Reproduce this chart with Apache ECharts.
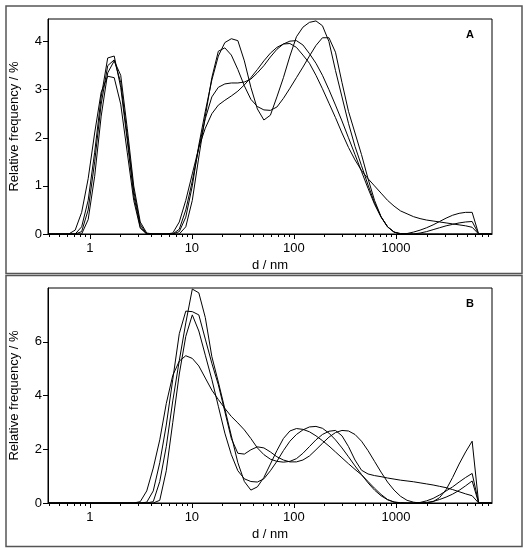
<!DOCTYPE html>
<html>
<head>
<meta charset="utf-8">
<title>Size distribution</title>
<script src="https://cdn.jsdelivr.net/npm/echarts@6.0.0/dist/echarts.min.js"></script>
<style>
  html, body { margin: 0; padding: 0; background: #fff; }
  #chart { width: 526px; height: 550px; }
</style>
</head>
<body>
<div id="chart"></div>
<script>
// size classes (nm), shared by all runs
const diam = [0.4, 0.4632, 0.5365, 0.6213, 0.7195, 0.8332, 0.9649, 1.117, 1.294, 1.499,
  1.736, 2.010, 2.328, 2.696, 3.122, 3.615, 4.187, 4.849, 5.615, 6.503,
  7.531, 8.721, 10.10, 11.70, 13.54, 15.69, 18.17, 21.04, 24.36, 28.21,
  32.67, 37.84, 43.82, 50.75, 58.77, 68.06, 78.82, 91.28, 105.7, 122.4,
  141.8, 164.2, 190.1, 220.2, 255.0, 295.3, 342.0, 396.1, 458.7, 531.2,
  615.1, 712.4, 825.0, 955.4, 1106, 1281, 1484, 1718, 1990, 2305,
  2669, 3091, 3580, 4145, 4801, 5560, 6439, 7456, 8635];

// panel A, relative frequency (%)
const a1 = [0, 0, 0, 0, 0, 0.15, 0.7, 1.7, 2.85, 3.66,
  3.7, 3.05, 1.95, 0.8, 0.15, 0, 0, 0, 0, 0,
  0.05, 0.35, 1.0, 1.85, 2.55, 3.2, 3.7, 3.98, 4.06, 4.02,
  3.6, 3.05, 2.6, 2.37, 2.47, 2.85, 3.25, 3.7, 4.1, 4.3,
  4.4, 4.43, 4.33, 4.0, 3.4, 2.85, 2.3, 1.82, 1.42, 1.02,
  0.65, 0.36, 0.15, 0.04, 0, 0.01, 0.04, 0.08, 0.13, 0.19,
  0.26, 0.33, 0.39, 0.43, 0.45, 0.45, 0, 0, 0];
const a2 = [0, 0, 0, 0, 0, 0.05, 0.5, 1.5, 2.7, 3.5,
  3.62, 3.15, 2.05, 0.9, 0.2, 0, 0, 0, 0, 0,
  0, 0.15, 0.7, 1.6, 2.45, 3.25, 3.8, 3.87, 3.72, 3.42,
  3.08, 2.8, 2.65, 2.58, 2.57, 2.64, 2.82, 3.03, 3.25, 3.47,
  3.7, 3.92, 4.08, 4.08, 3.78, 3.15, 2.55, 2.1, 1.65, 1.15,
  0.7, 0.36, 0.15, 0.04, 0.01, 0, 0, 0.02, 0.05, 0.09,
  0.13, 0.17, 0.2, 0.23, 0.25, 0.26, 0, 0, 0];
const a3 = [0, 0, 0, 0, 0, 0, 0.3, 1.2, 2.45, 3.35,
  3.6, 3.3, 2.2, 1.0, 0.25, 0.02, 0, 0, 0, 0,
  0.1, 0.5, 1.1, 1.8, 2.4, 2.85, 3.05, 3.12, 3.14, 3.14,
  3.16, 3.22, 3.35, 3.5, 3.68, 3.84, 3.95, 4.01, 4.02, 3.93,
  3.75, 3.55, 3.3, 3.0, 2.68, 2.35, 2.0, 1.65, 1.3, 0.95,
  0.62, 0.35, 0.15, 0.04, 0, 0, 0, 0, 0, 0,
  0, 0, 0, 0, 0, 0, 0, 0, 0];
const a4 = [0, 0, 0, 0, 0.08, 0.45, 1.15, 2.1, 2.95, 3.28,
  3.25, 2.7, 1.7, 0.7, 0.12, 0, 0, 0, 0, 0.02,
  0.25, 0.7, 1.25, 1.8, 2.2, 2.5, 2.68, 2.78, 2.87, 2.97,
  3.1, 3.25, 3.42, 3.6, 3.76, 3.88, 3.95, 3.96, 3.88, 3.72,
  3.55, 3.3, 3.02, 2.72, 2.42, 2.1, 1.8, 1.54, 1.32, 1.15,
  1.0, 0.85, 0.7, 0.58, 0.48, 0.42, 0.36, 0.32, 0.29, 0.27,
  0.25, 0.23, 0.21, 0.19, 0.17, 0.14, 0, 0, 0];

// panel B, relative frequency (%)
const b1 = [0, 0, 0, 0, 0, 0, 0, 0, 0, 0,
  0, 0, 0, 0, 0, 0, 0.05, 0.8, 2.1, 3.8,
  5.3, 6.7, 7.96, 7.82, 6.9, 5.45, 4.5, 3.5, 2.5, 1.5,
  0.8, 0.48, 0.6, 0.95, 1.45, 1.95, 2.4, 2.68, 2.77, 2.74,
  2.65, 2.5, 2.32, 2.12, 1.9, 1.68, 1.46, 1.25, 1.05, 0.8,
  0.55, 0.32, 0.13, 0.03, 0, 0, 0, 0, 0, 0.05,
  0.2, 0.5, 0.95, 1.45, 1.9, 2.3, 0, 0, 0];
const b2 = [0, 0, 0, 0, 0, 0, 0, 0, 0, 0,
  0, 0, 0, 0, 0, 0.03, 0.45, 1.5, 2.9, 4.6,
  6.3, 7.14, 7.12, 7.0, 6.1, 5.2, 4.4, 3.4, 2.4, 1.85,
  1.82, 1.98, 2.09, 2.05, 1.9, 1.72, 1.6, 1.53, 1.53, 1.6,
  1.75, 1.98, 2.22, 2.45, 2.62, 2.7, 2.68, 2.55, 2.3, 1.95,
  1.55, 1.15, 0.78, 0.48, 0.25, 0.1, 0.03, 0, 0.02, 0.06,
  0.13, 0.22, 0.33, 0.47, 0.64, 0.82, 0, 0, 0];
const b3 = [0, 0, 0, 0, 0, 0, 0, 0, 0, 0,
  0, 0, 0, 0, 0, 0, 0, 0.1, 1.2, 3.0,
  4.8, 6.2, 7.0, 6.4, 5.5, 4.6, 3.6, 2.6, 1.8, 1.2,
  0.9, 0.8, 0.78, 0.9, 1.2, 1.55, 1.95, 2.3, 2.55, 2.72,
  2.83, 2.85, 2.78, 2.6, 2.35, 2.05, 1.72, 1.38, 1.06, 0.75,
  0.48, 0.27, 0.12, 0.04, 0.01, 0, 0, 0.02, 0.08, 0.17,
  0.3, 0.45, 0.6, 0.78, 0.95, 1.1, 0, 0, 0];
const b4 = [0, 0, 0, 0, 0, 0, 0, 0, 0, 0,
  0, 0, 0, 0, 0.05, 0.45, 1.3, 2.35, 3.7, 4.75,
  5.28, 5.48, 5.38, 5.1, 4.65, 4.2, 3.85, 3.52, 3.22, 2.98,
  2.72, 2.4, 2.05, 1.8, 1.63, 1.55, 1.52, 1.55, 1.65, 1.85,
  2.1, 2.35, 2.55, 2.67, 2.7, 2.5, 2.1, 1.6, 1.22, 1.08,
  1.02, 0.98, 0.93, 0.89, 0.85, 0.82, 0.79, 0.75, 0.71, 0.67,
  0.62, 0.57, 0.5, 0.42, 0.34, 0.27, 0, 0, 0];

// tick labels
const xMajor = [1, 10, 100, 1000];
const xMinor = [0.4, 0.5, 0.6, 0.7, 0.8, 0.9, 2, 3, 4, 5, 6, 7, 8, 9,
  20, 30, 40, 50, 60, 70, 80, 90, 200, 300, 400, 500, 600, 700, 800, 900,
  2000, 3000, 4000, 5000, 6000, 7000, 8000];
const yTicksA = [0, 1, 2, 3, 4];
const yTicksB = [0, 2, 4, 6];

const FONT = 'Liberation Sans, Arial, sans-serif';
const X_MIN = 0.39;
const X_MAX = 8700;

function pairs(ys) {
  return ys.map((v, i) => [diam[i], v]);
}

function mainX(gridIndex) {
  return {
    type: 'log', gridIndex, position: 'bottom', min: X_MIN, max: X_MAX,
    name: 'd / nm', nameLocation: 'middle', nameGap: 25,
    nameTextStyle: { color: '#000', fontSize: 13, fontFamily: FONT },
    axisLine: { lineStyle: { color: '#000', width: 1 } },
    axisTick: { length: 5, customValues: xMajor, lineStyle: { color: '#000' } },
    axisLabel: {
      customValues: xMajor, color: '#000', fontSize: 13, fontFamily: FONT, margin: 8,
      formatter: v => String(v)
    },
    splitLine: { show: false }
  };
}

function minorX(gridIndex) {
  return {
    type: 'log', gridIndex, position: 'bottom', min: X_MIN, max: X_MAX,
    axisLine: { show: false },
    axisTick: { length: 3, customValues: xMinor, lineStyle: { color: '#000' } },
    axisLabel: { show: false },
    splitLine: { show: false }
  };
}

function yAxisFor(gridIndex, max, ticks) {
  return {
    type: 'value', gridIndex, min: 0, max,
    name: 'Relative frequency / %', nameLocation: 'middle', nameGap: 27,
    nameTextStyle: { color: '#000', fontSize: 13, fontFamily: FONT },
    axisLine: { show: true, lineStyle: { color: '#000', width: 1 } },
    axisTick: { show: true, length: 5, customValues: ticks, lineStyle: { color: '#000' } },
    axisLabel: { customValues: ticks, color: '#000', fontSize: 13, fontFamily: FONT, margin: 6 },
    splitLine: { show: false }
  };
}

function curve(ys, idx) {
  return {
    type: 'line', xAxisIndex: idx * 2, yAxisIndex: idx,
    data: pairs(ys), symbol: 'none', smooth: false, silent: true,
    lineStyle: { color: '#000', width: 1 }
  };
}

const chart = echarts.init(document.getElementById('chart'));

chart.setOption({
  animation: false,
  backgroundColor: '#fff',
  grid: [
    { left: 47, top: 19, width: 445, height: 215, show: true, borderColor: '#000', borderWidth: 1 },
    { left: 47, top: 288, width: 445, height: 215, show: true, borderColor: '#000', borderWidth: 1 }
  ],
  xAxis: [mainX(0), minorX(0), mainX(1), minorX(1)],
  yAxis: [yAxisFor(0, 4.47, yTicksA), yAxisFor(1, 8, yTicksB)],
  series: [
    curve(a1, 0), curve(a2, 0), curve(a3, 0), curve(a4, 0),
    curve(b1, 1), curve(b2, 1), curve(b3, 1), curve(b4, 1)
  ],
  graphic: [
    { type: 'rect', shape: { x: 6, y: 6, width: 516, height: 267.5 },
      style: { fill: 'none', stroke: '#555', lineWidth: 1.5 } },
    { type: 'rect', shape: { x: 6, y: 275.5, width: 516, height: 271 },
      style: { fill: 'none', stroke: '#555', lineWidth: 1.5 } },
    { type: 'text', left: 466, top: 29,
      style: { text: 'A', fill: '#000', font: 'bold 11px ' + FONT } },
    { type: 'text', left: 466, top: 298,
      style: { text: 'B', fill: '#000', font: 'bold 11px ' + FONT } }
  ]
});
</script>
</body>
</html>
